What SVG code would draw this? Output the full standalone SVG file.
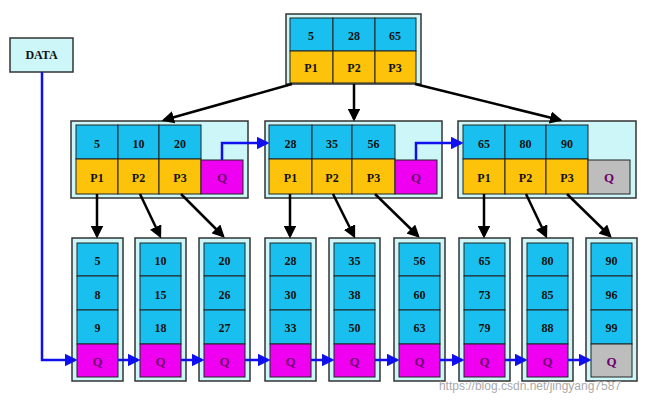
<svg xmlns="http://www.w3.org/2000/svg" width="664" height="406" viewBox="0 0 664 406">
<style>
.o{fill:#ccf6f8;stroke:#333;stroke-width:1.5}
.k{fill:#19c0ef;stroke:#222;stroke-width:1}
.p{fill:#fcc30a;stroke:#222;stroke-width:1}
.q{fill:#f000f0;stroke:#222;stroke-width:1}
.g{fill:#bdbdbd;stroke:#222;stroke-width:1}
text{font-family:"Liberation Serif",serif;font-weight:bold;font-size:12px;text-anchor:middle;fill:#111}
.qt{fill:#700070;font-size:13px}
.b{stroke:#000;stroke-width:2.5;fill:none;marker-end:url(#ab)}
.l{stroke:#1010ee;stroke-width:2.5;fill:none;marker-end:url(#al)}
</style>
<defs>
<marker id="ab" markerWidth="5" markerHeight="5" refX="4" refY="2.5" orient="auto"><path d="M0,0L5,2.5L0,5z" fill="#000"/></marker>
<marker id="al" markerWidth="5" markerHeight="5" refX="4" refY="2.5" orient="auto"><path d="M0,0L5,2.5L0,5z" fill="#1010ee"/></marker>
</defs>
<rect width="664" height="406" fill="#fff"/>
<g id="data"><rect x="10" y="38" width="63" height="34" class="o" fill="#d8f8fa"/><text x="41.5" y="59">DATA</text></g>
<g id="root">
<rect x="286" y="14" width="135" height="70" class="o"/>
<rect x="290" y="18" width="43" height="33" class="k"/><rect x="333" y="18" width="42" height="33" class="k"/><rect x="375" y="18" width="41" height="33" class="k"/>
<rect x="290" y="51" width="43" height="32" class="p"/><rect x="333" y="51" width="42" height="32" class="p"/><rect x="375" y="51" width="41" height="32" class="p"/>
<text x="311" y="40">5</text><text x="354" y="40">28</text><text x="395" y="40">65</text>
<text x="311" y="72">P1</text><text x="354" y="72">P2</text><text x="395" y="72">P3</text>
</g>
<g id="n1">
<rect x="71" y="121" width="177" height="77" class="o"/>
<rect x="76" y="125" width="42" height="34" class="k"/><rect x="118" y="125" width="41" height="34" class="k"/><rect x="159" y="125" width="42" height="34" class="k"/>
<rect x="76" y="159" width="42" height="35" class="p"/><rect x="118" y="159" width="41" height="35" class="p"/><rect x="159" y="159" width="42" height="35" class="p"/><rect x="201" y="160" width="42" height="34" class="q"/>
<text x="97" y="148">5</text><text x="138.5" y="148">10</text><text x="180" y="148">20</text>
<text x="97" y="182">P1</text><text x="138.5" y="182">P2</text><text x="180" y="182">P3</text><text x="222" y="182" class="qt">Q</text>
</g>
<g id="n2">
<rect x="265" y="121" width="177" height="77" class="o"/>
<rect x="269" y="125" width="43" height="34" class="k"/><rect x="312" y="125" width="40" height="34" class="k"/><rect x="352" y="125" width="43" height="34" class="k"/>
<rect x="269" y="159" width="43" height="35" class="p"/><rect x="312" y="159" width="40" height="35" class="p"/><rect x="352" y="159" width="43" height="35" class="p"/><rect x="395" y="160" width="42" height="34" class="q"/>
<text x="290.5" y="148">28</text><text x="332" y="148">35</text><text x="373.5" y="148">56</text>
<text x="290.5" y="182">P1</text><text x="332" y="182">P2</text><text x="373.5" y="182">P3</text><text x="416" y="182" class="qt">Q</text>
</g>
<g id="n3">
<rect x="458" y="121" width="178" height="77" class="o"/>
<rect x="463" y="125" width="42" height="34" class="k"/><rect x="505" y="125" width="41" height="34" class="k"/><rect x="546" y="125" width="42" height="34" class="k"/>
<rect x="463" y="159" width="42" height="35" class="p"/><rect x="505" y="159" width="41" height="35" class="p"/><rect x="546" y="159" width="42" height="35" class="p"/><rect x="588" y="160" width="42" height="34" class="g"/>
<text x="484" y="148">65</text><text x="525.5" y="148">80</text><text x="567" y="148">90</text>
<text x="484" y="182">P1</text><text x="525.5" y="182">P2</text><text x="567" y="182">P3</text><text x="609" y="182" class="qt" fill="#333">Q</text>
</g>
<g id="leaves">
<g id="l1" transform="translate(77,0)"><rect x="-5" y="238" width="51" height="143" class="o"/><rect y="243" width="41" height="33" class="k"/><rect y="276" width="41" height="34" class="k"/><rect y="310" width="41" height="34" class="k"/><rect y="344" width="41" height="33" class="q"/><text x="20.5" y="265">5</text><text x="20.5" y="299">8</text><text x="20.5" y="332">9</text><text x="20.5" y="366" class="qt">Q</text></g>
<g id="l2" transform="translate(140,0)"><rect x="-5" y="238" width="51" height="143" class="o"/><rect y="243" width="41" height="33" class="k"/><rect y="276" width="41" height="34" class="k"/><rect y="310" width="41" height="34" class="k"/><rect y="344" width="41" height="33" class="q"/><text x="20.5" y="265">10</text><text x="20.5" y="299">15</text><text x="20.5" y="332">18</text><text x="20.5" y="366" class="qt">Q</text></g>
<g id="l3" transform="translate(204,0)"><rect x="-5" y="238" width="51" height="143" class="o"/><rect y="243" width="41" height="33" class="k"/><rect y="276" width="41" height="34" class="k"/><rect y="310" width="41" height="34" class="k"/><rect y="344" width="41" height="33" class="q"/><text x="20.5" y="265">20</text><text x="20.5" y="299">26</text><text x="20.5" y="332">27</text><text x="20.5" y="366" class="qt">Q</text></g>
<g id="l4" transform="translate(270,0)"><rect x="-5" y="238" width="51" height="143" class="o"/><rect y="243" width="41" height="33" class="k"/><rect y="276" width="41" height="34" class="k"/><rect y="310" width="41" height="34" class="k"/><rect y="344" width="41" height="33" class="q"/><text x="20.5" y="265">28</text><text x="20.5" y="299">30</text><text x="20.5" y="332">33</text><text x="20.5" y="366" class="qt">Q</text></g>
<g id="l5" transform="translate(334,0)"><rect x="-5" y="238" width="51" height="143" class="o"/><rect y="243" width="41" height="33" class="k"/><rect y="276" width="41" height="34" class="k"/><rect y="310" width="41" height="34" class="k"/><rect y="344" width="41" height="33" class="q"/><text x="20.5" y="265">35</text><text x="20.5" y="299">38</text><text x="20.5" y="332">50</text><text x="20.5" y="366" class="qt">Q</text></g>
<g id="l6" transform="translate(399,0)"><rect x="-5" y="238" width="51" height="143" class="o"/><rect y="243" width="41" height="33" class="k"/><rect y="276" width="41" height="34" class="k"/><rect y="310" width="41" height="34" class="k"/><rect y="344" width="41" height="33" class="q"/><text x="20.5" y="265">56</text><text x="20.5" y="299">60</text><text x="20.5" y="332">63</text><text x="20.5" y="366" class="qt">Q</text></g>
<g id="l7" transform="translate(464,0)"><rect x="-5" y="238" width="51" height="143" class="o"/><rect y="243" width="41" height="33" class="k"/><rect y="276" width="41" height="34" class="k"/><rect y="310" width="41" height="34" class="k"/><rect y="344" width="41" height="33" class="q"/><text x="20.5" y="265">65</text><text x="20.5" y="299">73</text><text x="20.5" y="332">79</text><text x="20.5" y="366" class="qt">Q</text></g>
<g id="l8" transform="translate(527,0)"><rect x="-5" y="238" width="51" height="143" class="o"/><rect y="243" width="41" height="33" class="k"/><rect y="276" width="41" height="34" class="k"/><rect y="310" width="41" height="34" class="k"/><rect y="344" width="41" height="33" class="q"/><text x="20.5" y="265">80</text><text x="20.5" y="299">85</text><text x="20.5" y="332">88</text><text x="20.5" y="366" class="qt">Q</text></g>
<g id="l9" transform="translate(591,0)"><rect x="-5" y="238" width="51" height="143" class="o"/><rect y="243" width="41" height="33" class="k"/><rect y="276" width="41" height="34" class="k"/><rect y="310" width="41" height="34" class="k"/><rect y="344" width="41" height="33" class="g"/><text x="20.5" y="265">90</text><text x="20.5" y="299">96</text><text x="20.5" y="332">99</text><text x="20.5" y="366" class="qt" fill="#333">Q</text></g>
</g>
<g id="connectors">
<path class="b" d="M292,84L164,120"/><path class="b" d="M354,84L354,119"/><path class="b" d="M415,84L560,120"/>
<path class="b" d="M97,194L97,236"/><path class="b" d="M140,194L160,236"/><path class="b" d="M181,194L223,236"/>
<path class="b" d="M290,194L290,236"/><path class="b" d="M333,194L354,236"/><path class="b" d="M375,194L418,236"/>
<path class="b" d="M484,194L484,236"/><path class="b" d="M526,194L546,236"/><path class="b" d="M567,194L610,236"/>
<path class="l" d="M222,160V143H267"/><path class="l" d="M416,160V143H461"/>
<path class="l" d="M42,72V360H75"/>
<path class="l" d="M118,360H138"/><path class="l" d="M181,360H202"/><path class="l" d="M245,360H268"/><path class="l" d="M311,360H332"/><path class="l" d="M375,360H397"/><path class="l" d="M440,360H462"/><path class="l" d="M505,360H525"/><path class="l" d="M568,360H589"/>
</g>
<text x="530" y="390" style="font-family:'Liberation Sans',sans-serif;font-weight:normal;font-size:12px;fill:#aaa">https://blog.csdn.net/jingyang7587</text>
</svg>
